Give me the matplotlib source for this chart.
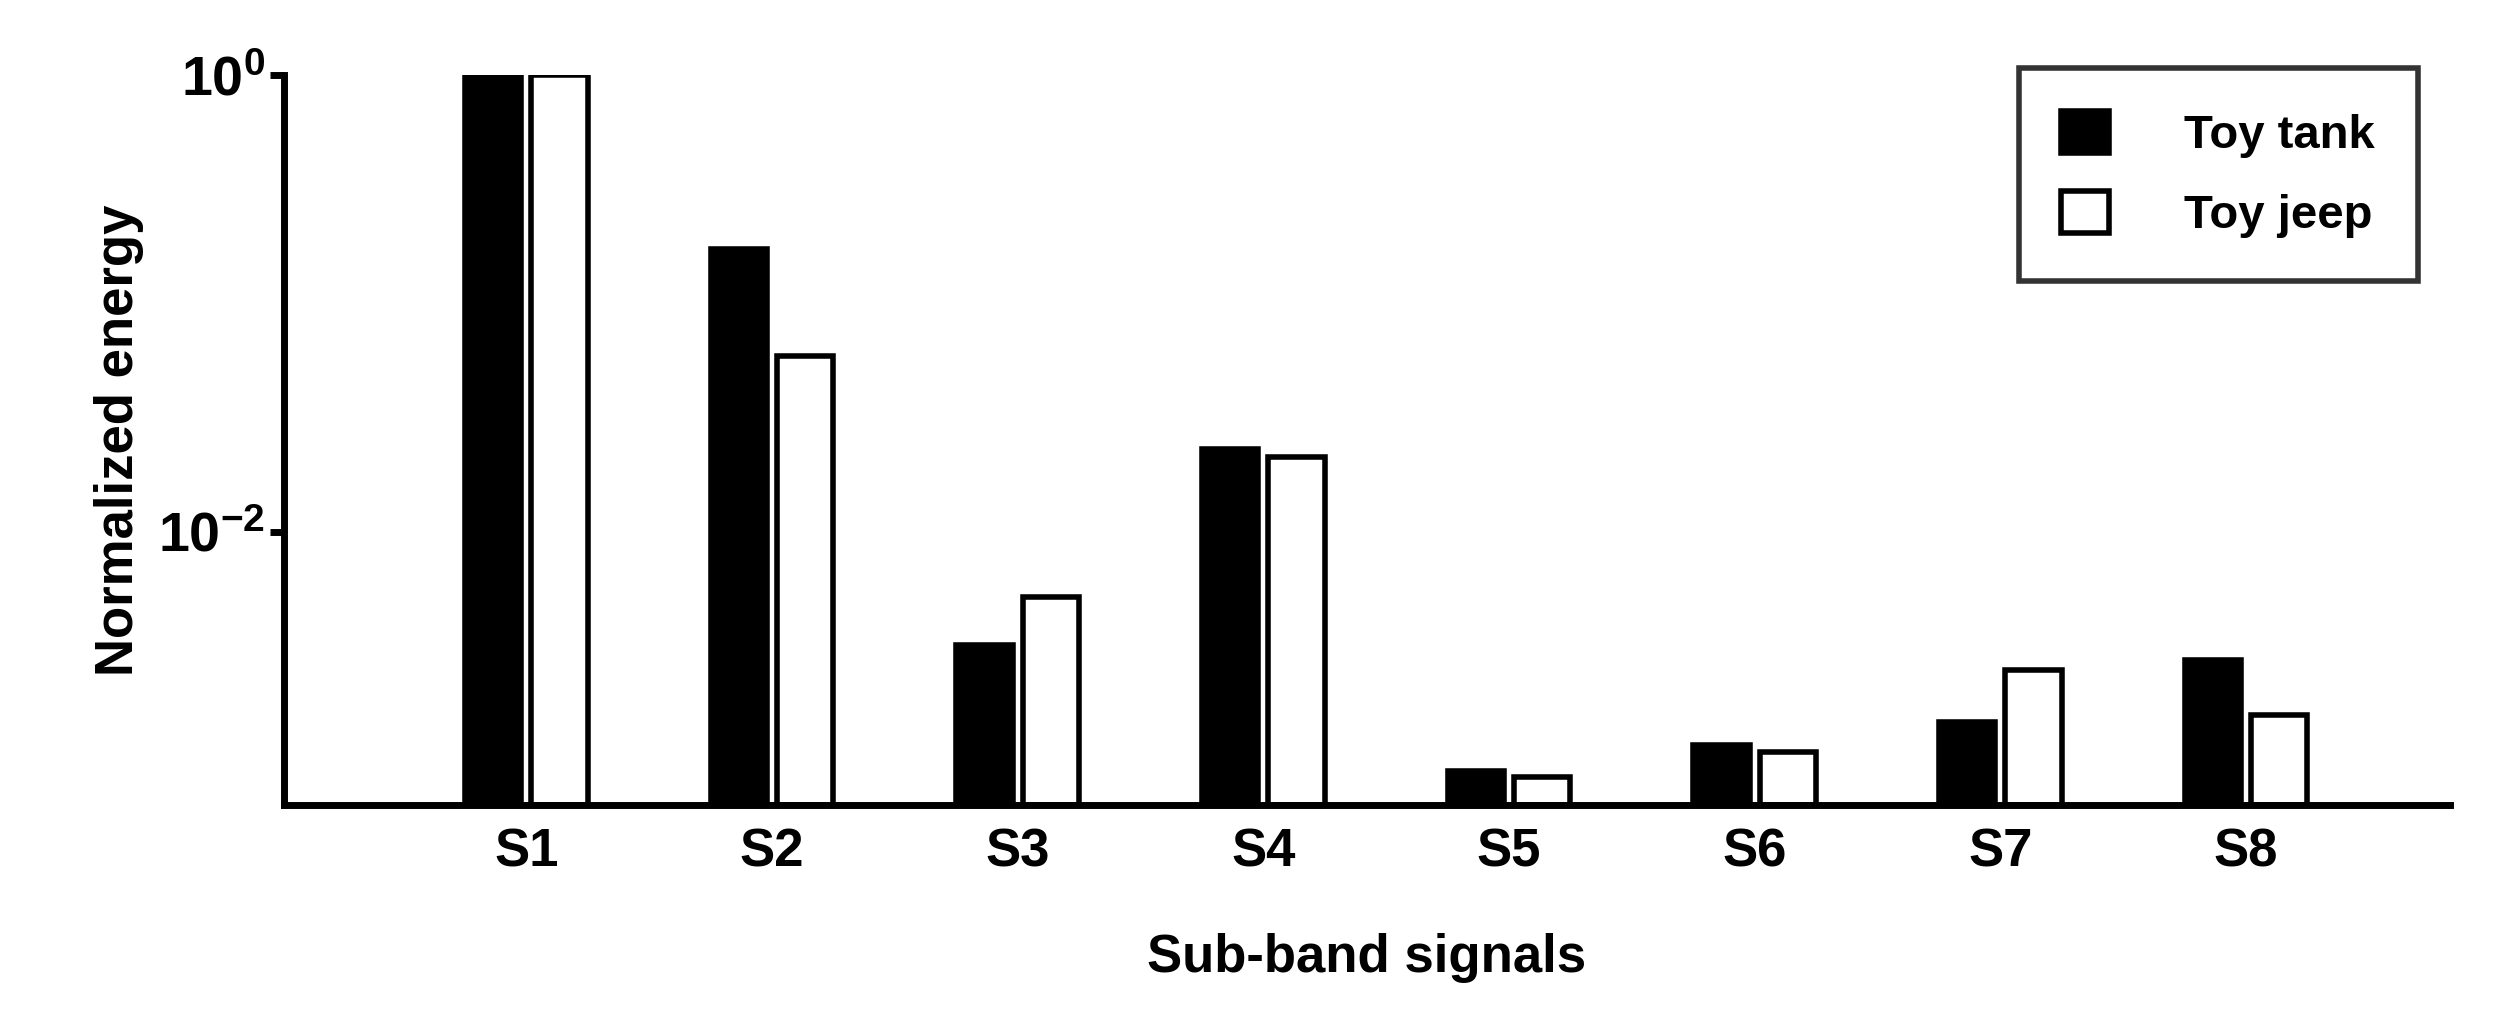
import matplotlib
matplotlib.use("Agg")
import matplotlib.pyplot as plt
import numpy as np

categories = ["S1", "S2", "S3", "S4", "S5", "S6", "S7", "S8"]
toy_tank = [1.0, 0.173, 0.0032, 0.0231, 8.9e-4, 1.16e-3, 1.47e-3, 2.75e-3]
toy_jeep = [1.0, 0.0588, 0.0052, 0.0213, 8.4e-4, 1.08e-3, 2.47e-3, 1.58e-3]

plt.rcParams["font.family"] = "Liberation Sans"
plt.rcParams["font.weight"] = "bold"
plt.rcParams["mathtext.fontset"] = "custom"
plt.rcParams["mathtext.rm"] = "Liberation Sans:bold"
plt.rcParams["mathtext.bf"] = "Liberation Sans:bold"
plt.rcParams["mathtext.default"] = "bf"
fig = plt.figure(figsize=(25, 10.34), dpi=100)
ax = fig.add_axes([0.1135, 0.221, 0.8665, 0.706])
x = np.arange(1, len(categories) + 1)
w = 0.23
bottom = 10 ** -3.2
ax.bar(x - 0.135, np.array(toy_tank) - bottom, w, bottom=bottom, color="black", edgecolor="black", linewidth=4, label="Toy tank")
ax.bar(x + 0.135, np.array(toy_jeep) - bottom, w, bottom=bottom, color="white", edgecolor="black", linewidth=4, label="Toy jeep")
ax.set_yscale("log")
ax.set_ylim(bottom, 1.0)
ax.set_xlim(0.013, 8.83)
ax.set_xticks(x)
ax.set_xticklabels(categories)
ax.set_yticks([1e-2, 1e0])
ax.set_yticklabels(["$10^{-2}$", "$10^{0}$"])
ax.yaxis.set_minor_locator(matplotlib.ticker.NullLocator())
ax.tick_params(axis="x", length=0, labelsize=38, pad=16)
ax.tick_params(axis="y", length=10, width=5, direction="out", labelsize=40)
for s in ["top", "right"]:
    ax.spines[s].set_visible(False)
for s in ["left", "bottom"]:
    ax.spines[s].set_linewidth(5)
ax.set_xlabel("Sub-band signals", fontsize=38, fontweight="bold", labelpad=40)
ax.set_ylabel("Normalized energy", fontsize=38, fontweight="bold", labelpad=10)
leg = ax.legend(loc="upper right", fontsize=34, frameon=True, fancybox=False,
                edgecolor="black", borderpad=0.9, handlelength=1.0, handleheight=1.0,
                handletextpad=1.6, borderaxespad=0.0, labelspacing=0.7,
                bbox_to_anchor=(0.985, 1.01))
leg.get_frame().set_linewidth(4)
for t in leg.get_texts():
    t.set_fontweight("bold")
fig.savefig("out.png", dpi=100)
